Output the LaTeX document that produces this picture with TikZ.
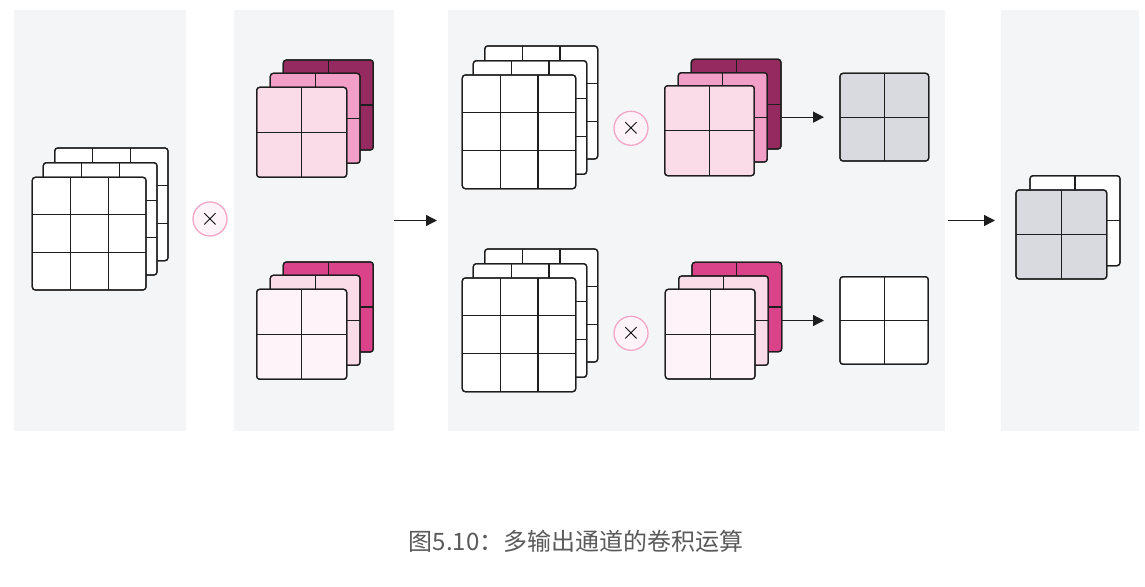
\documentclass[tikz,border=0pt]{standalone}
\usepackage{fontspec}
\newfontfamily\cjk{Noto Sans CJK SC}
\usetikzlibrary{calc,arrows.meta}
\definecolor{panelbg}{HTML}{F4F5F7}
\definecolor{kdark}{HTML}{942A60}
\definecolor{kmid}{HTML}{F19FC6}
\definecolor{klight}{HTML}{FADCE9}
\definecolor{kpale}{HTML}{FDF3F9}
\definecolor{khot}{HTML}{DA4389}
\definecolor{outgray}{HTML}{D8DADF}
\definecolor{ringc}{HTML}{F2A7C8}
\definecolor{capc}{HTML}{5A5A5A}
\definecolor{linec}{HTML}{1E1E1E}
\newcommand\gbox[7]{% name, x1, y1, x2, y2, fractions, fill
  \pgfmathsetmacro\gw{#4-#2}\pgfmathsetmacro\gh{#5-#3}
  \node[cell, fill=#7, minimum width=\gw pt, minimum height=\gh pt] (#1) at ({(#2+#4)/2},{(#3+#5)/2}) {};
  \foreach \f in {#6} {
    \draw[gline] ($(#1.north west)!\f!(#1.north east)$) -- ($(#1.south west)!\f!(#1.south east)$);
    \draw[gline] ($(#1.north west)!\f!(#1.south west)$) -- ($(#1.north east)!\f!(#1.south east)$);
  }
  \node[cell, draw=linec, fill=none, minimum width=\gw pt, minimum height=\gh pt] at (#1.center) {};
}
\begin{document}
\begin{tikzpicture}[x=1pt,y=-1pt,
  cell/.style={draw=linec, line width=1.2pt, rounded corners=3pt, inner sep=0pt, outer sep=0pt},
  gline/.style={draw=linec, line width=1.2pt},
  panel/.style={fill=panelbg, draw=none, inner sep=0pt, outer sep=0pt},
  ring/.style={circle, draw=ringc, line width=1.3pt, fill=kpale, minimum size=34pt, inner sep=0pt, text=black, font=\fontsize{24}{24}\selectfont},
  arr/.style={draw=linec, line width=1.3pt, -{Triangle[length=11pt,width=11pt]}}]
\useasboundingbox (0,0) rectangle (1145,586);
\fill[white] (0,0) rectangle (1145,586);
% panels
\node[panel, minimum width=172pt, minimum height=421pt] (p1) at (100,220.5) {};
\node[panel, minimum width=160pt, minimum height=421pt] (p2) at (314,220.5) {};
\node[panel, minimum width=497pt, minimum height=421pt] (p3) at (696.5,220.5) {};
\node[panel, minimum width=138pt, minimum height=421pt] (p4) at (1070,220.5) {};
% input stack
\gbox{i3}{54.7}{148}{168}{260.7}{0.3333,0.6667}{white}
\gbox{i2}{43.3}{162.7}{157}{275}{0.3333,0.6667}{white}
\gbox{i1}{32.3}{177.3}{146}{290}{0.3333,0.6667}{white}
\node[ring] (x1) at (210,219) {$\times$};
% kernels panel 2
\gbox{ka3}{283.3}{60}{373.3}{150}{0.5}{kdark}
\gbox{ka2}{270.3}{73.3}{360}{163.3}{0.5}{kmid}
\gbox{ka1}{256.7}{87.3}{346.7}{177.3}{0.5}{klight}
\gbox{kb3}{283.3}{262}{373.3}{352}{0.5}{khot}
\gbox{kb2}{270.3}{275.3}{360}{365.3}{0.5}{klight}
\gbox{kb1}{256.7}{289.3}{346.7}{379.3}{0.5}{kpale}
% arrow 1
\draw[arr] (p2.east) -- ([xshift=-11pt]p3.west);
% panel 3 top row
\gbox{ta3}{484.7}{46}{597.7}{159}{0.3333,0.6667}{white}
\gbox{ta2}{473.3}{60.7}{586.7}{174.3}{0.3333,0.6667}{white}
\gbox{ta1}{462.3}{75}{575.7}{188.7}{0.3333,0.6667}{white}
\node[ring] (x2) at (631,128.3) {$\times$};
\gbox{tk3}{691.3}{59.3}{781}{149}{0.5}{kdark}
\gbox{tk2}{678.3}{72.7}{767.3}{162}{0.5}{kmid}
\gbox{tk1}{664.7}{85.7}{754.3}{175.7}{0.5}{klight}
\gbox{o1}{840}{73.3}{928.7}{161}{0.5}{outgray}
\draw[arr] (tk3.east |- o1.west) -- ([xshift=-16pt]o1.west);
% panel 3 bottom row
\gbox{ba3}{484.7}{249}{597.7}{362}{0.3333,0.6667}{white}
\gbox{ba2}{473.3}{263.7}{586.7}{377.3}{0.3333,0.6667}{white}
\gbox{ba1}{462.3}{278}{575.7}{391.7}{0.3333,0.6667}{white}
\node[ring] (x3) at (631,333.3) {$\times$};
\gbox{bk3}{692}{262.3}{781.7}{351.7}{0.5}{khot}
\gbox{bk2}{678.7}{276}{768.3}{365.3}{0.5}{klight}
\gbox{bk1}{665.3}{289.3}{755}{379}{0.5}{kpale}
\gbox{o2}{840}{276.7}{928.3}{364.3}{0.5}{white}
\draw[arr] (bk3.east |- o2.west) -- ([xshift=-16pt]o2.west);
% arrow 2
\draw[arr] ([xshift=3pt]p3.east) -- ([xshift=-6pt]p4.west);
% output stack
\gbox{f2}{1030}{175.7}{1120}{265.7}{0.5}{white}
\gbox{f1}{1016}{190}{1106.7}{279}{0.5}{outgray}
% caption
\node[text=capc, font=\cjk\fontsize{24}{24}\selectfont, anchor=center] (cap) at (576,541) {图5.10：多输出通道的卷积运算};
\end{tikzpicture}
\end{document}
